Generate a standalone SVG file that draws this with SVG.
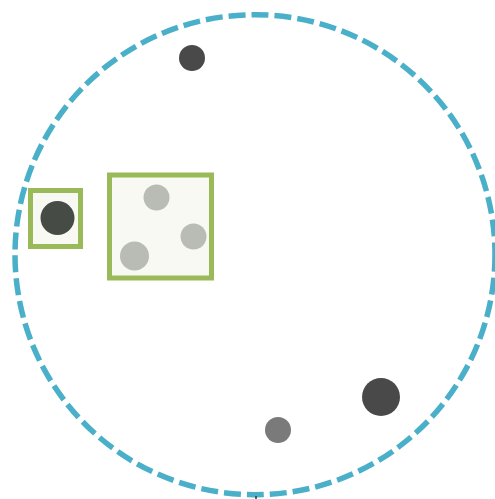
<svg xmlns="http://www.w3.org/2000/svg" width="495" height="499" viewBox="0 0 495 499">
<style>
.ring{fill:none;stroke:#4aafc8;stroke-width:5.5;stroke-dasharray:17 6}
.box{fill:#f7f9f2;stroke:#9aba5a;stroke-width:5}
.dark{fill:#4a4a4a}
.darkg{fill:#464c44}
.mid{fill:#7a7a7a}
.light{fill:#b9bcb5}
</style>
<defs><filter id="soft" x="-20%" y="-20%" width="140%" height="140%"><feGaussianBlur stdDeviation="0.7"/></filter></defs>
<g id="boundary"><circle class="ring" cx="255" cy="254.7" r="240"/></g>
<g id="group-single"><rect class="box" x="30.5" y="190.5" width="50" height="56"/></g>
<g id="group-three"><rect class="box" x="109.5" y="175" width="102" height="103"/></g>
<g filter="url(#soft)">
<g id="dot-top"><circle class="dark" cx="192" cy="58" r="13"/></g>
<g id="dot-single"><circle class="darkg" cx="57.5" cy="218" r="17"/></g>
<g id="dot-a"><circle class="light" cx="156.5" cy="197.5" r="13"/></g>
<g id="dot-b"><circle class="light" cx="193.5" cy="236.5" r="13"/></g>
<g id="dot-c"><circle class="light" cx="134.5" cy="256" r="14.5"/></g>
<g id="dot-big"><circle class="dark" cx="381" cy="397" r="19"/></g>
<g id="dot-bottom"><circle class="mid" cx="278" cy="430" r="13"/></g>
</g>
<g id="connectors"><line x1="256" y1="496" x2="256" y2="499" stroke="#333" stroke-width="1.5"/></g>
</svg>
